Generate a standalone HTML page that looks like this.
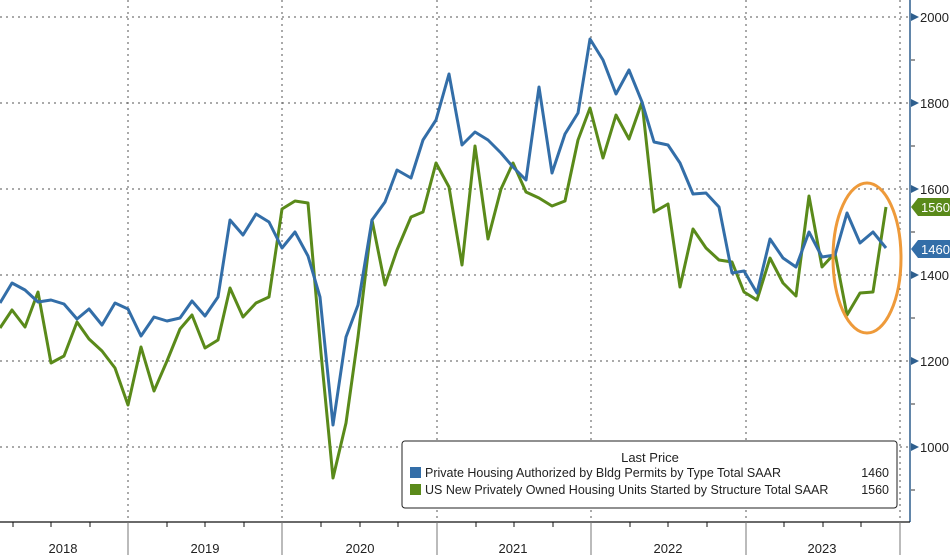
<!DOCTYPE html>
<html><head><meta charset="utf-8"><style>
html,body{margin:0;padding:0;background:#fff;}
svg{display:block;font-family:"Liberation Sans",sans-serif;}
</style></head><body>
<svg width="950" height="555" viewBox="0 0 950 555" xmlns="http://www.w3.org/2000/svg">
<rect width="950" height="555" fill="#fff"/>
<g stroke="#555" stroke-width="1" stroke-dasharray="2,4">
<line x1="0" y1="17" x2="908" y2="17"/>
<line x1="0" y1="103" x2="908" y2="103"/>
<line x1="0" y1="189" x2="908" y2="189"/>
<line x1="0" y1="275" x2="908" y2="275"/>
<line x1="0" y1="361" x2="908" y2="361"/>
<line x1="0" y1="447" x2="908" y2="447"/>
<line x1="128" y1="0" x2="128" y2="522"/>
<line x1="282" y1="0" x2="282" y2="522"/>
<line x1="437" y1="0" x2="437" y2="522"/>
<line x1="591" y1="0" x2="591" y2="522"/>
<line x1="746" y1="0" x2="746" y2="522"/>
<line x1="900" y1="0" x2="900" y2="522"/>
</g>
<line x1="910" y1="0" x2="910" y2="522" stroke="#2e5f8e" stroke-width="1.5"/>
<g fill="#2e5f8e">
<polygon points="911,13 919,17 911,21"/><polygon points="911,99 919,103 911,107"/>
<polygon points="911,185 919,189 911,193"/><polygon points="911,271 919,275 911,279"/>
<polygon points="911,357 919,361 911,365"/><polygon points="911,443 919,447 911,451"/>
</g>
<g stroke="#333"><line x1="911" y1="60" x2="915" y2="60"/><line x1="911" y1="146" x2="915" y2="146"/><line x1="911" y1="232" x2="915" y2="232"/><line x1="911" y1="318" x2="915" y2="318"/><line x1="911" y1="404" x2="915" y2="404"/><line x1="911" y1="490" x2="915" y2="490"/></g>
<g font-size="13" fill="#222">
<text x="920" y="22">2000</text><text x="920" y="108">1800</text><text x="920" y="194">1600</text>
<text x="920" y="280">1400</text><text x="920" y="366">1200</text><text x="920" y="452">1000</text>
</g>
<polyline fill="none" stroke="#5a8a1a" stroke-width="3" stroke-linejoin="round" points="0,328 12,310 25,327 38,292 51,363 64,356 77,322 89,339 102,351 115,368 128,405 141,347 154,391 167,361 180,329 192,315 205,348 218,340 230,288 243,317 256,303 269,297 282,209 295,201 308,203 321,353 333,478 346,423 358,337 372,220 385,285 397,250 411,217 423,212 436,163 449,187 462,265 475,146 488,239 501,189 513,163 526,192 539,198 552,206 565,201 578,140 590,108 603,158 616,115 629,139 642,102 654,212 668,204 680,287 693,229 706,248 719,260 732,262 744,292 757,300 770,258 783,283 796,296 809,196 822,267 835,253 847,315 860,293 873,292 886,207"/>
<polyline fill="none" stroke="#336ea8" stroke-width="3" stroke-linejoin="round" points="0,303 12,283 25,290 38,302 51,300 64,304 77,319 89,309 102,325 115,303 128,309 141,336 154,317 167,321 180,318 192,301 205,316 218,297 230,220 243,235 256,214 269,222 282,248 295,232 308,256 320,297 333,425 346,337 358,305 372,220 385,202 397,170 411,178 423,140 436,120 449,74 462,145 475,132 488,140 501,153 513,167 526,180 539,87 552,173 565,134 578,113 590,39 603,60 616,94 629,70 642,102 654,142 668,145 680,163 693,194 706,193 719,207 732,273 744,271 757,293 770,239 783,258 796,267 809,232 822,257 835,255 847,213 860,243 873,232 886,248"/>
<ellipse cx="867" cy="258" rx="34" ry="75" fill="none" stroke="#ee9a3a" stroke-width="3"/>
<polygon points="911,207 918,198 950,198 950,216 918,216" fill="#5a8a1a"/>
<text x="921" y="212" font-size="13" fill="#fff">1560</text>
<polygon points="911,249 918,240 950,240 950,258 918,258" fill="#336ea8"/>
<text x="921" y="254" font-size="13" fill="#fff">1460</text>
<rect x="402" y="441" width="495" height="67" rx="3" fill="#fff" stroke="#222" stroke-width="1"/>
<text x="650" y="462" font-size="13" fill="#222" text-anchor="middle">Last Price</text>
<rect x="410" y="467" width="11" height="11" fill="#336ea8"/>
<rect x="410" y="484" width="11" height="11" fill="#5a8a1a"/>
<g font-size="12.5" fill="#222">
<text x="425" y="477">Private Housing Authorized by Bldg Permits by Type Total SAAR</text>
<text x="889" y="477" text-anchor="end">1460</text>
<text x="425" y="494">US New Privately Owned Housing Units Started by Structure Total SAAR</text>
<text x="889" y="494" text-anchor="end">1560</text>
</g>
<line x1="0" y1="522" x2="910" y2="522" stroke="#111" stroke-width="1.2"/>
<g stroke="#111">
<line x1="13" y1="522" x2="13" y2="527"/><line x1="51" y1="522" x2="51" y2="527"/><line x1="90" y1="522" x2="90" y2="527"/>
<line x1="167" y1="522" x2="167" y2="527"/><line x1="205" y1="522" x2="205" y2="527"/><line x1="244" y1="522" x2="244" y2="527"/>
<line x1="321" y1="522" x2="321" y2="527"/><line x1="360" y1="522" x2="360" y2="527"/><line x1="398" y1="522" x2="398" y2="527"/>
<line x1="476" y1="522" x2="476" y2="527"/><line x1="514" y1="522" x2="514" y2="527"/><line x1="553" y1="522" x2="553" y2="527"/>
<line x1="630" y1="522" x2="630" y2="527"/><line x1="668" y1="522" x2="668" y2="527"/><line x1="707" y1="522" x2="707" y2="527"/>
<line x1="784" y1="522" x2="784" y2="527"/><line x1="823" y1="522" x2="823" y2="527"/><line x1="861" y1="522" x2="861" y2="527"/>
</g>
<g stroke="#777">
<line x1="128" y1="522" x2="128" y2="555"/><line x1="282" y1="522" x2="282" y2="555"/><line x1="437" y1="522" x2="437" y2="555"/>
<line x1="591" y1="522" x2="591" y2="555"/><line x1="746" y1="522" x2="746" y2="555"/><line x1="900" y1="522" x2="900" y2="555"/>
</g>
<g font-size="13" fill="#222" text-anchor="middle">
<text x="63" y="553">2018</text><text x="205" y="553">2019</text><text x="360" y="553">2020</text>
<text x="513" y="553">2021</text><text x="668" y="553">2022</text><text x="822" y="553">2023</text>
</g>
</svg>
</body></html>
